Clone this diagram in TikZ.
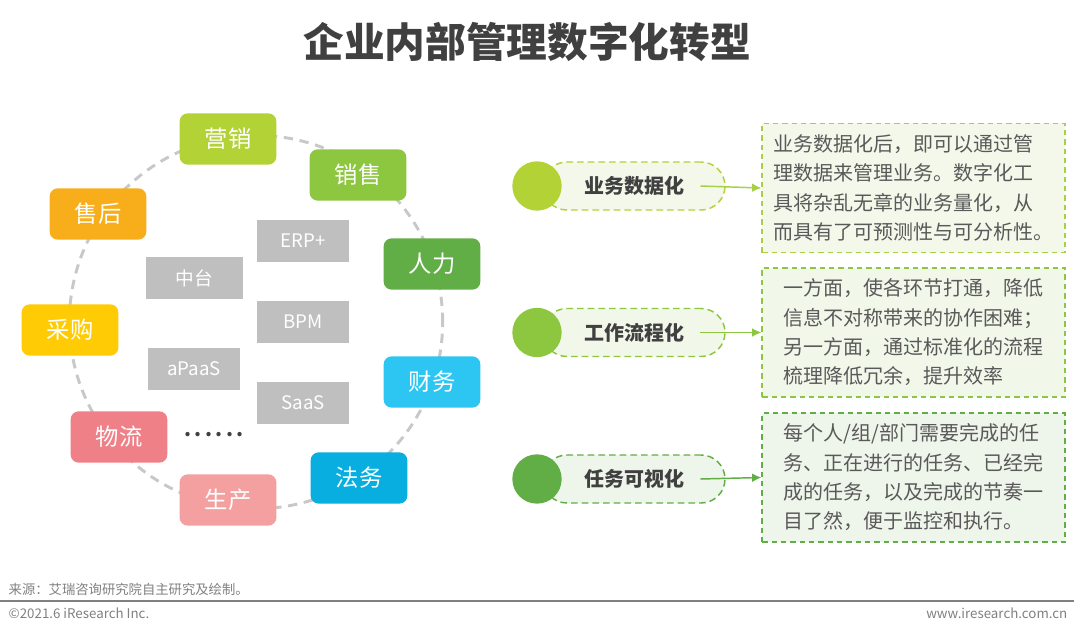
\documentclass[tikz,border=0pt]{standalone}
\usepackage{fontspec}
\setmainfont{Noto Sans CJK SC}
\usepackage{tikz}
\usetikzlibrary{arrows.meta}

\definecolor{cYingxiao}{HTML}{B2D235}
\definecolor{cXiaoshou}{HTML}{8DC63F}
\definecolor{cRenli}{HTML}{62AE46}
\definecolor{cCaiwu}{HTML}{2DC6F2}
\definecolor{cFawu}{HTML}{07AEDF}
\definecolor{cShengchan}{HTML}{F4A0A0}
\definecolor{cWuliu}{HTML}{EF8088}
\definecolor{cCaigou}{HTML}{FFCB05}
\definecolor{cShouhou}{HTML}{F8AE1B}
\definecolor{cTech}{HTML}{BFBFBF}
\definecolor{cRing}{HTML}{C8C8C8}
\definecolor{cTitle}{HTML}{404040}
\definecolor{cBody}{HTML}{595959}
\definecolor{cFoot}{HTML}{808080}
\definecolor{cBoxA}{HTML}{A8CF45}
\definecolor{cFillA}{HTML}{F4F8EA}
\definecolor{cFillB}{HTML}{F1F8EA}
\definecolor{cFillC}{HTML}{EEF5EA}

\begin{document}
\begin{tikzpicture}[x=0.75pt,y=-0.75pt]
  %\draw[help lines] (0,0) grid (1080,634);
  \tikzset{ringbox/.style = {%
      rectangle, rounded corners=6pt,
      minimum width=72.5pt, minimum height=38.5pt,
      text=white, font=\fontsize{17.5pt}{17.5pt}\selectfont},
    techbox/.style = {%
      rectangle, fill=cTech, text=white,
      minimum width=69pt, minimum height=31pt,
      font=\fontsize{14pt}{14pt}\selectfont},
    pill/.style = {%
      rectangle, rounded corners=18pt, dashed, line width=1.1pt,
      dash pattern=on 5pt off 3pt,
      minimum width=136.5pt, minimum height=36pt,
      text=cTitle, font=\bfseries\fontsize{15pt}{15pt}\selectfont},
    dot/.style = {circle, minimum size=37pt, inner sep=0pt},
    notebox/.style = {%
      rectangle, dashed, line width=1.1pt, dash pattern=on 4pt off 3pt,
      minimum width=227pt, minimum height=97pt, align=left,
      text=cBody, font=\fontsize{15pt}{22pt}\selectfont},
    arr/.style = {-{Latex[length=7pt,width=6.5pt]}, line width=1.1pt}}
  \useasboundingbox (0,0) rectangle (1080,634);

  \node[font=\bfseries\fontsize{30.5pt}{30.5pt}\selectfont, text=cTitle] (title) at (527,42) {企业内部管理数字化转型};

  % the ring
  \draw[cRing, line width=2.2pt, dash pattern=on 7pt off 5pt] (256,322) circle[radius=140pt];
  \foreach \nm/\txt/\col/\px/\py in {%
      yingxiao/营销/cYingxiao/228/139, xiaoshou/销售/cXiaoshou/358/175,
      renli/人力/cRenli/432/264, caiwu/财务/cCaiwu/432/382,
      fawu/法务/cFawu/359/478, shengchan/生产/cShengchan/228/500,
      wuliu/物流/cWuliu/119/437, caigou/采购/cCaigou/70/330,
      shouhou/售后/cShouhou/98/214}
    \node[ringbox, fill=\col] (\nm) at (\px,\py) {\txt};

  \node[techbox] (erp) at (303,241) {ERP+};
  \node[techbox, minimum width=72.75pt] (zhongtai) at (194,278) {中台};
  \node[techbox] (bpm) at (303,322) {BPM};
  \node[techbox] (apaas) at (194,369) {aPaaS};
  \node[techbox] (saas) at (303,403) {SaaS};
  \node[text=cTitle, font=\bfseries\fontsize{15pt}{15pt}\selectfont] (more) at (214,435) {.\,.\,.\,.\,.\,.};

  % right side
  \node[pill, draw=cYingxiao, fill=cFillA] (pillA) at (634,186) {业务数据化};
  \node[dot, fill=cYingxiao] (dotA) at (537,186) {};
  \node[notebox, draw=cBoxA, fill=cFillA] (noteA) at (913.5,188) {%
    业务数据化后，即可以通过管\\理数据来管理业务。数字化工\\具将杂乱无章的业务量化，从\\而具有了可预测性与可分析性。};
  \draw[arr, cBoxA] ([xshift=-19pt]pillA.east) -- (noteA.west);

  \node[pill, draw=cXiaoshou, fill=cFillB] (pillB) at (634,332.5) {工作流程化};
  \node[dot, fill=cXiaoshou] (dotB) at (537,332.5) {};
  \node[notebox, draw=cXiaoshou, fill=cFillB] (noteB) at (913.5,332.5) {%
    一方面，使各环节打通，降低\\信息不对称带来的协作困难；\\另一方面，通过标准化的流程\\梳理降低冗余，提升效率};
  \draw[arr, cXiaoshou] ([xshift=-19pt]pillB.east) -- (noteB.west);

  \node[pill, draw=cRenli, fill=cFillC] (pillC) at (634,479) {任务可视化};
  \node[dot, fill=cRenli] (dotC) at (537,479) {};
  \node[notebox, draw=cRenli, fill=cFillC] (noteC) at (913.5,477.5) {%
    每个人/组/部门需要完成的任\\务、正在进行的任务、已经完\\成的任务，以及完成的节奏一\\目了然，便于监控和执行。};
  \draw[arr, cRenli] ([xshift=-19pt]pillC.east) -- (noteC.west);

  % footer
  \node[anchor=west, text=cFoot, font=\fontsize{10pt}{10pt}\selectfont] (source) at (4,589) {来源：艾瑞咨询研究院自主研究及绘制。};
  \draw[cFoot, line width=1.3pt] (0,601) -- (1074,601);
  \node[anchor=west, text=cFoot, font=\fontsize{10pt}{10pt}\selectfont] (copy) at (4,613) {©2021.6 iResearch Inc.};
  \node[anchor=east, text=cFoot, font=\fontsize{10pt}{10pt}\selectfont] (site) at (1072,613) {www.iresearch.com.cn};
\end{tikzpicture}
\end{document}
